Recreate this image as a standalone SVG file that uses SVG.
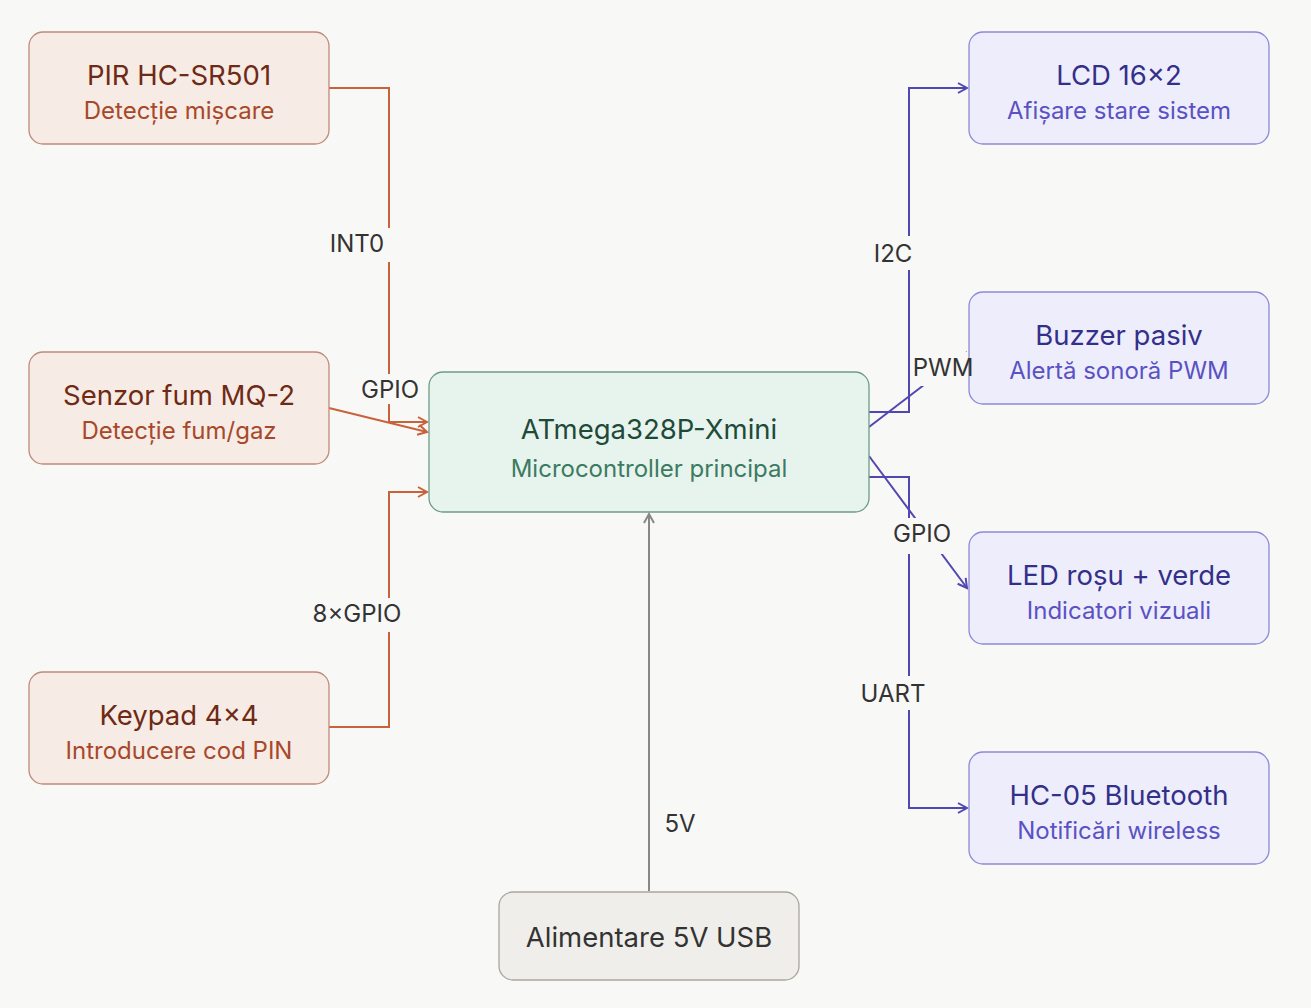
<svg xmlns="http://www.w3.org/2000/svg" width="1311" height="1008" viewBox="0 0 1311 1008">
<defs>
<style>
text{font-family:Inter,"Noto Sans",sans-serif;text-anchor:middle}
.t{font-size:27.5px}.s{font-size:24px}
.in rect{fill:#f7ebe5;stroke:#c08a78;stroke-width:1.3}
.in .t{fill:#6e2a14}.in .s{fill:#a8482a}
.out rect{fill:#eeedfb;stroke:#8d88d8;stroke-width:1.3}
.out .t{fill:#33308a}.out .s{fill:#5a52c4}
.o{stroke:#c8623a;stroke-width:2;fill:none}
.p{stroke:#5047b0;stroke-width:2;fill:none}
.g{stroke:#888;stroke-width:2;fill:none}
.lb{fill:#f8f8f7}
.lt{font-size:24px;fill:#333}
</style>
<marker id="ao" markerWidth="12" markerHeight="12" refX="10" refY="6" orient="auto" markerUnits="userSpaceOnUse"><path d="M1,1 L10,6 L1,11" fill="none" stroke="#c8623a" stroke-width="2"/></marker>
<marker id="ap" markerWidth="12" markerHeight="12" refX="10" refY="6" orient="auto" markerUnits="userSpaceOnUse"><path d="M1,1 L10,6 L1,11" fill="none" stroke="#5047b0" stroke-width="2"/></marker>
<marker id="ag" markerWidth="12" markerHeight="12" refX="10" refY="6" orient="auto" markerUnits="userSpaceOnUse"><path d="M1,1 L10,6 L1,11" fill="none" stroke="#888" stroke-width="2"/></marker>
</defs>
<rect width="1311" height="1008" fill="#f8f8f7"/>
<g id="connectors">
<path class="o" d="M329,88 H389 V422 H427" marker-end="url(#ao)"/>
<path class="o" d="M329,408 L427,432" marker-end="url(#ao)"/>
<path class="o" d="M329,727 H389 V492 H427" marker-end="url(#ao)"/>
<path class="p" d="M869,412 H909 V88 H967" marker-end="url(#ap)"/>
<path class="p" d="M869,427 L967,352"/>
<path class="p" d="M869,456 L967,588" marker-end="url(#ap)"/>
<path class="p" d="M869,477 H909 V808 H967" marker-end="url(#ap)"/>
<path class="g" d="M649,891 V514" marker-end="url(#ag)"/>
</g>
<g id="pir" class="in"><rect x="29" y="32" width="300" height="112" rx="14"/><text class="t" x="179" y="85">PIR HC-SR501</text><text class="s" x="179" y="119">Detecție mișcare</text></g>
<g id="mq2" class="in"><rect x="29" y="352" width="300" height="112" rx="14"/><text class="t" x="179" y="405">Senzor fum MQ-2</text><text class="s" x="179" y="439">Detecție fum/gaz</text></g>
<g id="keypad" class="in"><rect x="29" y="672" width="300" height="112" rx="14"/><text class="t" x="179" y="725">Keypad 4×4</text><text class="s" x="179" y="759">Introducere cod PIN</text></g>
<g id="mcu"><rect x="429" y="372" width="440" height="140" rx="14" fill="#e6f4ed" stroke="#6e9c86" stroke-width="1.3"/><text class="t" x="649" y="439" fill="#1f4a3a">ATmega328P-Xmini</text><text class="s" x="649" y="477" fill="#3d7a62">Microcontroller principal</text></g>
<g id="lcd" class="out"><rect x="969" y="32" width="300" height="112" rx="14"/><text class="t" x="1119" y="85">LCD 16×2</text><text class="s" x="1119" y="119">Afișare stare sistem</text></g>
<g id="buzzer" class="out"><rect x="969" y="292" width="300" height="112" rx="14"/><text class="t" x="1119" y="345">Buzzer pasiv</text><text class="s" x="1119" y="379">Alertă sonoră PWM</text></g>
<g id="led" class="out"><rect x="969" y="532" width="300" height="112" rx="14"/><text class="t" x="1119" y="585">LED roșu + verde</text><text class="s" x="1119" y="619">Indicatori vizuali</text></g>
<g id="bt" class="out"><rect x="969" y="752" width="300" height="112" rx="14"/><text class="t" x="1119" y="805">HC-05 Bluetooth</text><text class="s" x="1119" y="839">Notificări wireless</text></g>
<g id="power"><rect x="499" y="892" width="300" height="88" rx="14" fill="#efeeea" stroke="#aaa69c" stroke-width="1.3"/><text class="t" x="649" y="947" fill="#333">Alimentare 5V USB</text></g>
<g id="labels">
<rect class="lb" x="324" y="228" width="66" height="34"/><text class="lt" x="357" y="252">INT0</text>
<rect class="lb" x="356" y="374" width="70" height="30"/><text class="lt" x="390" y="398">GPIO</text>
<rect class="lb" x="308" y="598" width="98" height="34"/><text class="lt" x="357" y="622">8×GPIO</text>
<rect class="lb" x="869" y="236" width="48" height="34"/><text class="lt" x="893" y="262">I2C</text>
<rect class="lb" x="912" y="352" width="56" height="34"/><text class="lt" x="943" y="376">PWM</text>
<rect class="lb" x="886" y="518" width="72" height="36"/><text class="lt" x="922" y="542">GPIO</text>
<rect class="lb" x="856" y="676" width="74" height="34"/><text class="lt" x="893" y="702">UART</text>
<rect class="lb" x="659" y="806" width="44" height="34"/><text class="lt" x="680" y="832">5V</text>
</g>
</svg>
